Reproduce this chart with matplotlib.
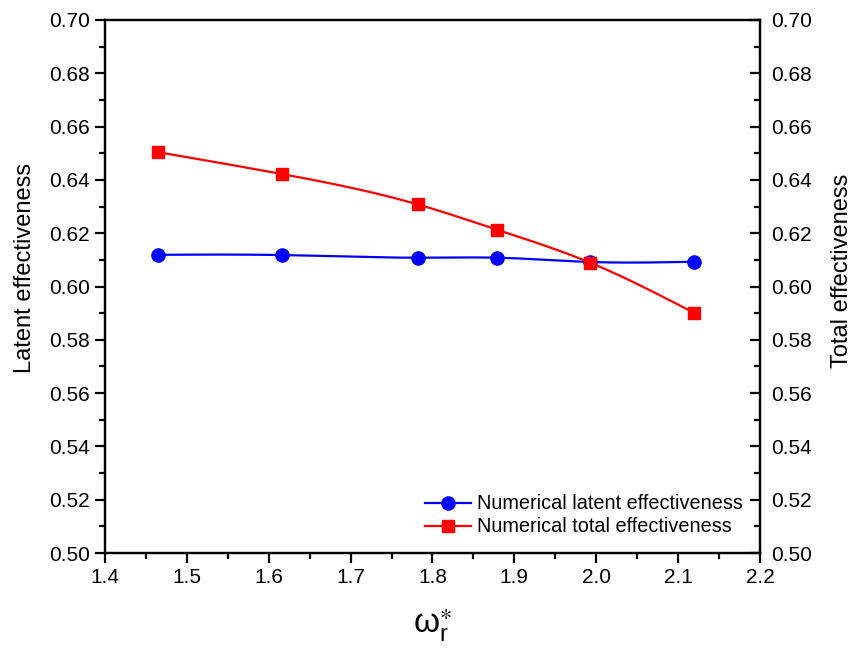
import matplotlib
matplotlib.use("Agg")
import matplotlib.pyplot as plt
import numpy as np
from matplotlib.ticker import MultipleLocator

# data
omega = [1.465, 1.616, 1.782, 1.879, 1.993, 2.119]
latent = [0.6119, 0.6118, 0.6108, 0.6108, 0.6092, 0.6093]
total = [0.6504, 0.6422, 0.6308, 0.6213, 0.6089, 0.5902]


def spline(x, y, n=200):
    # natural cubic spline through the points, only for drawing the line
    x = np.asarray(x, float)
    y = np.asarray(y, float)
    k = len(x)
    h = np.diff(x)
    A = np.zeros((k, k))
    b = np.zeros(k)
    A[0, 0] = A[-1, -1] = 1
    for i in range(1, k - 1):
        A[i, i - 1] = h[i - 1]
        A[i, i] = 2 * (h[i - 1] + h[i])
        A[i, i + 1] = h[i]
        b[i] = 6 * ((y[i + 1] - y[i]) / h[i] - (y[i] - y[i - 1]) / h[i - 1])
    M = np.linalg.solve(A, b)
    xs = np.linspace(x[0], x[-1], n)
    j = np.clip(np.searchsorted(x, xs) - 1, 0, k - 2)
    t0 = x[j + 1] - xs
    t1 = xs - x[j]
    hj = h[j]
    ys = (M[j] * t0**3 + M[j + 1] * t1**3) / (6 * hj) \
        + (y[j] / hj - M[j] * hj / 6) * t0 + (y[j + 1] / hj - M[j + 1] * hj / 6) * t1
    return xs, ys


plt.rcParams['font.family'] = ['Liberation Sans', 'DejaVu Sans']
plt.rcParams['mathtext.fontset'] = 'custom'
plt.rcParams['mathtext.rm'] = 'Liberation Sans'
plt.rcParams['mathtext.it'] = 'Liberation Sans'

fig = plt.figure(figsize=(8.51, 6.59), dpi=100)
ax = fig.add_axes([0.1234, 0.1608, 0.7696, 0.8089])
ax2 = ax.twinx()

xs, ys = spline(omega, latent)
ax.plot(xs, ys, color='blue', lw=1.6)
ax.plot(omega, latent, 'o', color='blue', ms=9.5)
xs, ys = spline(omega, total)
ax.plot(xs, ys, color='red', lw=1.6)
ax.plot(omega, total, 's', color='red', ms=9)

# legend entries
ax.plot([], [], '-o', color='blue', lw=1.6, ms=9.5, label='Numerical latent effectiveness')
ax.plot([], [], '-s', color='red', lw=1.6, ms=9, label='Numerical total effectiveness')
ax.legend(loc='lower right', bbox_to_anchor=(0.995, 0.005), frameon=False, fontsize=14.3,
          handlelength=2.3, handletextpad=0.3, labelspacing=0.2, borderpad=0.2)

for a in (ax, ax2):
    a.set_ylim(0.50, 0.70)
    a.yaxis.set_major_locator(MultipleLocator(0.02))
    a.yaxis.set_minor_locator(MultipleLocator(0.01))
    a.yaxis.set_major_formatter(plt.FormatStrFormatter('%.2f'))
    for s in a.spines.values():
        s.set_linewidth(1.6)

ax.set_xlim(1.4, 2.2)
ax.xaxis.set_major_locator(MultipleLocator(0.1))
ax.xaxis.set_minor_locator(MultipleLocator(0.05))
ax.xaxis.set_major_formatter(plt.FormatStrFormatter('%.1f'))

ax.tick_params(axis='both', which='major', direction='out', length=7, width=1.6,
               labelsize=15, pad=4, top=False, right=False)
ax.tick_params(axis='both', which='minor', direction='out', length=4, width=1.6,
               top=False, right=False)
ax2.tick_params(axis='y', which='major', direction='in', length=7, width=1.6,
                labelsize=15, pad=8)
ax2.tick_params(axis='y', which='minor', direction='in', length=4, width=1.6)

ax.set_ylabel('Latent effectiveness', fontsize=17)
ax.yaxis.set_label_coords(-0.105, 0.535)
ax2.set_ylabel('Total effectiveness', fontsize=17)
ax2.yaxis.set_label_coords(1.108, 0.53)
ax.set_xlabel(r'$\mathregular{\omega_r^{\ast}}$', fontsize=24, labelpad=14)

fig.savefig('out.png', dpi=100)
